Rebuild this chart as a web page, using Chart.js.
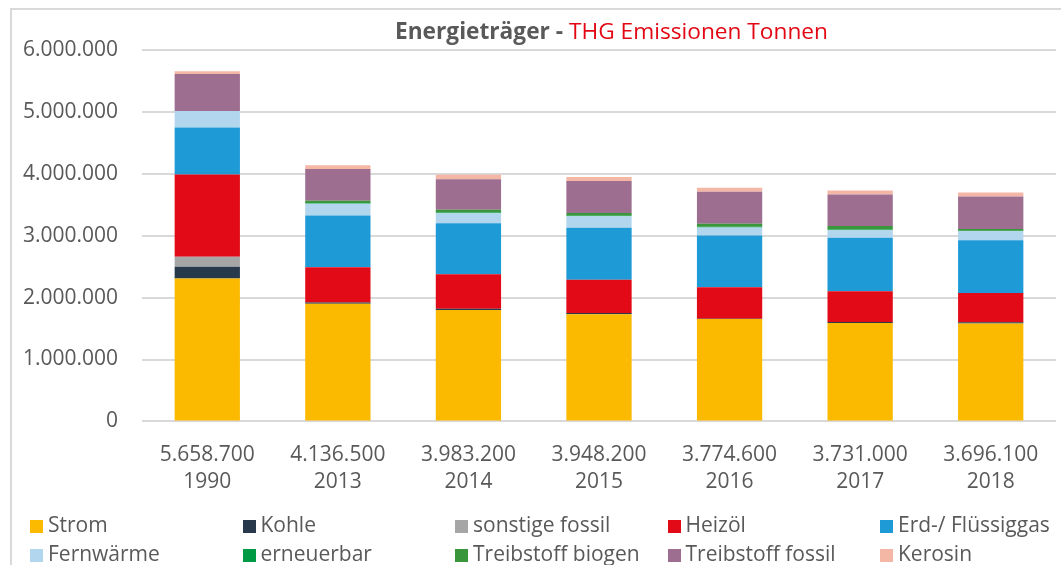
<!DOCTYPE html>
<html>
<head>
<meta charset="utf-8">
<script src="https://cdn.jsdelivr.net/npm/chart.js@4/dist/chart.umd.min.js"></script>
<style>
  body { margin: 0; background: #fff; }
  #wrap { position: relative; width: 1061px; height: 565px; overflow: hidden; font-family: "Open Sans", sans-serif; }
  #frame { position: absolute; left: 10px; top: 8px; width: 1060px; height: 570px; border-left: 2px solid #d9d9d9; border-top: 2px solid #d9d9d9; }
  #title { position: absolute; left: 395px; top: 15px; font-size: 22.7px; white-space: nowrap; }
  #title b { color: #595959; }
  #title span { color: #e30613; }
  #legend { position: absolute; left: 30px; top: 511px; }
  .item { position: absolute; width: 212px; font-size: 21px; color: #595959; white-space: nowrap; line-height: 26px; }
  .item i { display: inline-block; width: 13px; height: 13px; margin-right: 5px; vertical-align: -1px; }
  canvas { position: absolute; left: 0; top: 0; }
</style>
</head>
<body>
<div id="wrap">
  <div id="frame"></div>
  <canvas id="chart" width="1061" height="565"></canvas>
  <div id="title"><b>Energieträger - </b><span>THG Emissionen Tonnen</span></div>
  <div id="legend"></div>
</div>
<script>
// DATA
const years = ['1990', '2013', '2014', '2015', '2016', '2017', '2018'];
const totals = ['5.658.700', '4.136.500', '3.983.200', '3.948.200', '3.774.600', '3.731.000', '3.696.100'];

const strom        = [2310000, 1900000, 1800000, 1730000, 1655000, 1590000, 1580000];
const kohle        = [190000, 20000, 20000, 20000, 5000, 17000, 20000];
const sonstige     = [160000, 0, 0, 0, 0, 0, 0];
const heizoel      = [1330000, 570000, 557000, 540000, 508000, 497000, 476000];
const erdgas       = [760000, 836000, 826000, 840000, 837000, 862000, 850000];
const fernwaerme   = [265000, 190000, 160000, 183000, 128000, 124000, 146000];
const erneuerbar   = [0, 8000, 10000, 10000, 12000, 12000, 8000];
const biogen       = [0, 40000, 45000, 45000, 50000, 53000, 30000];
const tfFossil     = [598700, 512500, 495000, 515000, 514600, 511000, 522100];
const kerosin      = [45000, 60000, 70200, 65200, 65000, 65000, 64000];

const yTicks = [0, 1000000, 2000000, 3000000, 4000000, 5000000, 6000000];

const fmt = v => String(v).replace(/\B(?=(\d{3})+(?!\d))/g, '.');

const series = [
  ['Strom', strom, '#fbb900'],
  ['Kohle', kohle, '#27394a'],
  ['sonstige fossil', sonstige, '#a6a6a6'],
  ['Heizöl', heizoel, '#e20a17'],
  ['Erd-/ Flüssiggas', erdgas, '#1e9ad7'],
  ['Fernwärme', fernwaerme, '#b1d6ee'],
  ['erneuerbar', erneuerbar, '#009a44'],
  ['Treibstoff biogen', biogen, '#3a963a'],
  ['Treibstoff fossil', tfFossil, '#9d6e8f'],
  ['Kerosin', kerosin, '#f5b7a5']
];

const chart = new Chart(document.getElementById('chart'), {
  type: 'bar',
  data: {
    labels: years.map((y, i) => [totals[i], y]),
    datasets: series.map(s => ({
      label: s[0],
      data: s[1],
      backgroundColor: s[2],
      borderWidth: 0,
      barPercentage: 0.5,
      categoryPercentage: 1
    }))
  },
  options: {
    responsive: false,
    animation: false,
    devicePixelRatio: 1,
    layout: { padding: { top: 50, right: 5, bottom: 57, left: 0 } },
    plugins: {
      legend: { display: false },
      title: { display: false },
      tooltip: { enabled: false }
    },
    scales: {
      x: {
        stacked: true,
        grid: { display: false },
        border: { display: false },
        ticks: {
          color: '#595959',
          padding: 12,
          font: { family: 'Open Sans', size: 21, lineHeight: 1.3 }
        }
      },
      y: {
        stacked: true,
        min: 0,
        max: 6000000,
        afterBuildTicks: axis => { axis.ticks = yTicks.map(v => ({ value: v })); },
        afterFit: axis => { axis.width = 142; },
        grid: { color: '#d9d9d9', lineWidth: 2, drawTicks: false },
        border: { display: false },
        ticks: {
          color: '#595959',
          padding: 24,
          font: { family: 'Open Sans', size: 21 },
          callback: v => fmt(v)
        }
      }
    }
  }
});

// legend in 5 columns like the original
const legend = document.getElementById('legend');
chart.data.datasets.forEach((ds, i) => {
  const el = document.createElement('div');
  el.className = 'item';
  el.style.left = (i % 5) * 212.5 + 'px';
  el.style.top = Math.floor(i / 5) * 29 + 'px';
  el.innerHTML = '<i style="background:' + ds.backgroundColor + '"></i>' + ds.label;
  legend.appendChild(el);
});
</script>
</body>
</html>
